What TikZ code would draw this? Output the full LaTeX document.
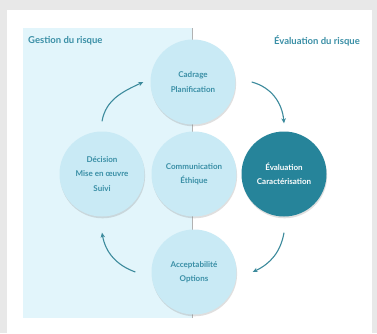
\documentclass[tikz,border=0pt]{standalone}
\usepackage{fontspec}
\setmainfont{Lato}
\usetikzlibrary{arrows.meta,shadows}
\definecolor{texte}{HTML}{3A8FA6}
\definecolor{bulleclair}{HTML}{C9EAF5}
\definecolor{bullefonce}{HTML}{26849A}
\definecolor{zone}{HTML}{E2F5FB}
\definecolor{fleche}{HTML}{3C8A9C}
\begin{document}
\begin{tikzpicture}[x=1pt,y=1pt,>={Stealth[length=5pt,width=4.5pt]},
    bulle/.style={circle,minimum size=85pt,inner sep=0pt,fill=bulleclair,text=texte,align=center,
        font=\bfseries\fontsize{8}{14.5}\selectfont,
        drop shadow={opacity=0.25,shadow xshift=0.6pt,shadow yshift=-1.8pt}},
    titre/.style={text=texte,font=\bfseries\fontsize{9.5}{11}\selectfont,inner sep=0pt},
    cycle/.style={->,draw=fleche,line width=1.1pt}]
        \useasboundingbox (0,0) rectangle (377,333);
        \fill[gray!18] (0,0) rectangle (377,333);
        \fill[white] (7,0) rectangle (372,323);
        \fill[zone] (23,15) rectangle (192,305);
        \draw[gray!60,line width=0.6pt] (192,15)--(192,305);   % separation des deux zones
        \node[titre,anchor=west] (gestion) at (28,292) {Gestion du risque};
        \node[titre,anchor=east] (evalrisque) at (360,292) {Évaluation du risque};
        \node[bulle] (cadrage) at (193,251) {Cadrage\\Planification};
        \node[bulle] (communication) at (194,159) {Communication\\Éthique};
        \node[bulle] (decision) at (102,159) {Décision\\Mise en œuvre\\Suivi};
        \node[bulle,fill=bullefonce,text=white] (evaluation) at (284,159) {Évaluation\\Caractérisation};
        \node[bulle] (acceptabilite) at (194,61) {Acceptabilité\\Options};
        \draw[cycle] ([xshift=16pt]cadrage.east) to[out=-15,in=95] ([yshift=8pt]evaluation.north);
        \draw[cycle] ([yshift=-16pt]evaluation.south) to[out=-100,in=25] ([xshift=16pt]acceptabilite.east);
        \draw[cycle] ([xshift=-16pt]acceptabilite.west) to[out=160,in=-80] ([yshift=-16pt]decision.south);
        \draw[cycle] ([yshift=10pt]decision.north) to[out=80,in=-155] ([xshift=-7pt]cadrage.west);
    \end{tikzpicture}
\end{document}
